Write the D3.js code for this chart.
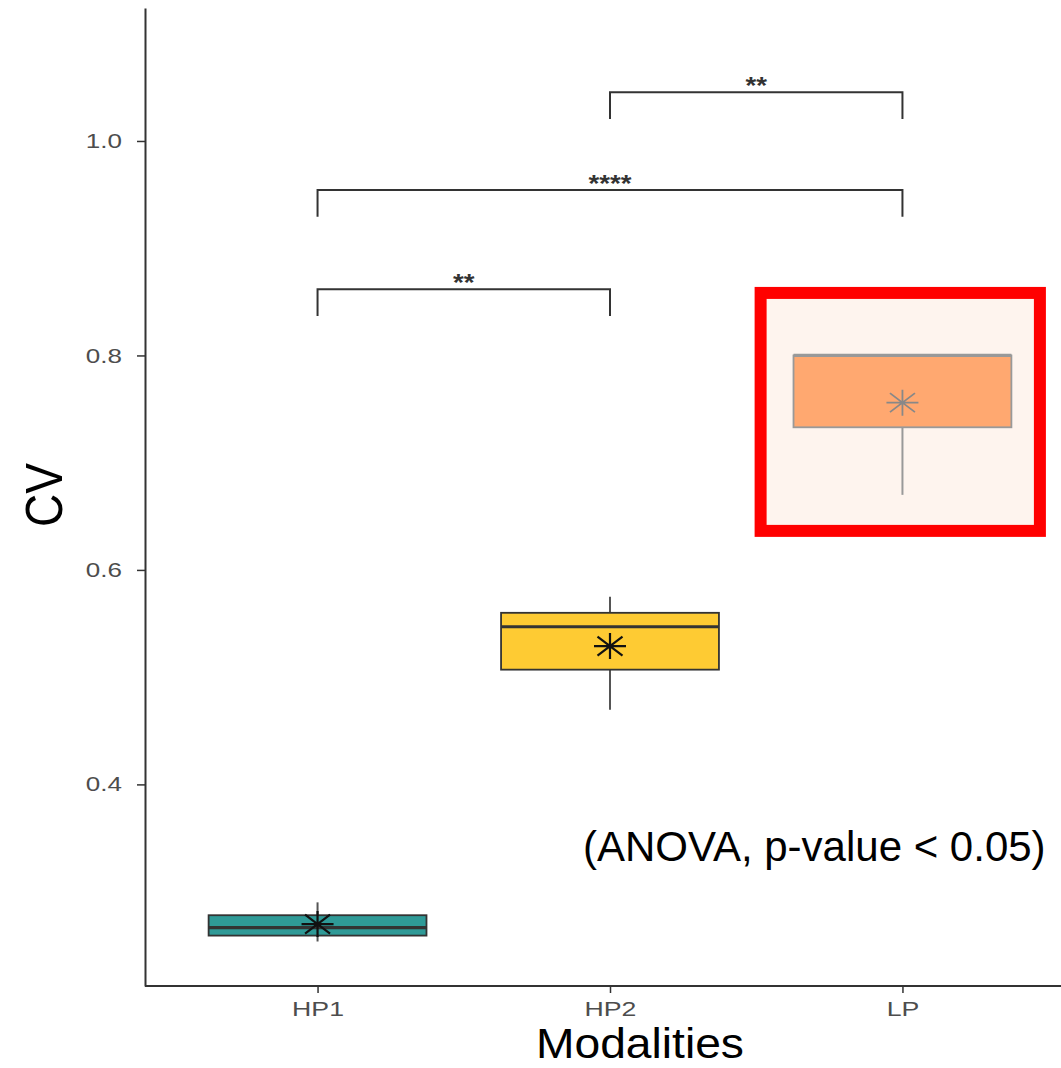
<!DOCTYPE html>
<html lang="en">
<head>
    <meta charset="UTF-8">
    <title>CV by modality</title>
    <script src="https://d3js.org/d3.v7.min.js"></script>
    <style>
        body {
            margin: 0;
            background-color: #ffffff;
            font-family: "Liberation Sans", Arial, sans-serif;
        }
        .axis path, .axis line {
            stroke: #333;
        }
        .axis path {
            stroke-width: 2px;
        }
        .axis line {
            stroke-width: 1.5px;
        }
        .axis text {
            fill: #4d4d4d;
            font-family: "Liberation Sans", Arial, sans-serif;
            transform-box: fill-box;
        }
        .y-axis text {
            font-size: 20.5px;
            transform-origin: right center;
            transform: scaleX(1.27);
        }
        .x-axis text {
            font-size: 21px;
            transform-origin: center center;
            transform: scaleX(1.27);
        }
    </style>
</head>
<body>
    <svg width="1061" height="1068"></svg>

    <script>
        // 모달리티별 CV 박스플롯 값
        const categories = ["HP1", "HP2", "LP"];
        const q1 = [0.259, 0.507, 0.733];
        const medians = [0.2665, 0.547, 0.800];
        const q3 = [0.278, 0.560, 0.800];
        const whiskerLow = [0.2535, 0.4695, 0.670];
        const whiskerHigh = [0.290, 0.575, 0.800];
        const means = [0.2697, 0.529, 0.756];
        const yTicks = [0.4, 0.6, 0.8, 1.0];

        // 유의성 비교 (브래킷)
        const compareFrom = ["HP1", "HP1", "HP2"];
        const compareTo = ["HP2", "LP", "LP"];
        const bracketLevel = [0.8617, 0.9543, 1.0454];
        const bracketLabels = ["**", "****", "**"];

        const fills = ["#2f9a97", "#fecb33", "#ffa870"];
        const strokes = ["#333333", "#333333", "#999999"];

        const svg = d3.select("svg");

        const x = d3.scalePoint()
            .domain(categories)
            .range([145, 1075])
            .padding(0.59);

        const y = d3.scaleLinear()
            .domain([0.212, 1.124])
            .range([986, 8]);

        const boxW = x.step() * 0.745;

        // LP 강조 박스
        svg.append("rect")
            .attr("x", x("LP") - x.step() * 0.485)
            .attr("y", y(0.8583))
            .attr("width", x.step() * 0.955)
            .attr("height", y(0.6364) - y(0.8583))
            .attr("fill", "#fef4ee")
            .attr("stroke", "#ff0000")
            .attr("stroke-width", 12);

        // 축
        svg.append("g")
            .attr("class", "axis y-axis")
            .attr("transform", "translate(145,0)")
            .call(d3.axisLeft(y)
                .tickValues(yTicks)
                .tickFormat(d3.format(".1f"))
                .tickSize(8)
                .tickSizeOuter(0)
                .tickPadding(15));

        svg.append("g")
            .attr("class", "axis x-axis")
            .attr("transform", "translate(0,986)")
            .call(d3.axisBottom(x)
                .tickSize(7)
                .tickSizeOuter(0)
                .tickPadding(8));

        // x축 선은 오른쪽 끝까지
        svg.select(".x-axis .domain").attr("d", "M145,0H1061");

        // 박스플롯
        const boxes = svg.append("g")
            .selectAll("g")
            .data(categories)
            .join("g");

        boxes.append("line")
            .attr("x1", d => x(d))
            .attr("x2", d => x(d))
            .attr("y1", (d, i) => y(whiskerLow[i]))
            .attr("y2", (d, i) => y(whiskerHigh[i]))
            .attr("stroke", (d, i) => i == 2 ? "#999" : "#555")
            .attr("stroke-width", 2);

        boxes.append("rect")
            .attr("x", d => x(d) - boxW / 2)
            .attr("y", (d, i) => y(q3[i]))
            .attr("width", boxW)
            .attr("height", (d, i) => y(q1[i]) - y(q3[i]))
            .attr("fill", (d, i) => fills[i])
            .attr("stroke", (d, i) => strokes[i])
            .attr("stroke-width", 1.8);

        boxes.append("line")
            .attr("x1", d => x(d) - boxW / 2)
            .attr("x2", d => x(d) + boxW / 2)
            .attr("y1", (d, i) => y(medians[i]))
            .attr("y2", (d, i) => y(medians[i]))
            .attr("stroke", (d, i) => strokes[i])
            .attr("stroke-width", 3.2);

        // 평균 (별표 모양)
        boxes.append("path")
            .attr("transform", (d, i) => `translate(${x(d)},${y(means[i])})`)
            .attr("d", "M-16,0H16M0,-13V13M-12.5,-9.5L12.5,9.5M-12.5,9.5L12.5,-9.5")
            .attr("fill", "none")
            .attr("stroke", (d, i) => i == 2 ? "#888" : "#111")
            .attr("stroke-width", (d, i) => i == 2 ? 1.8 : 2.2);

        // 브래킷
        const drop = 0.025;
        const brackets = svg.append("g")
            .selectAll("g")
            .data(bracketLabels)
            .join("g");

        brackets.append("path")
            .attr("d", (d, i) => {
                const x1 = x(compareFrom[i]);
                const x2 = x(compareTo[i]);
                const yt = y(bracketLevel[i]);
                const yb = y(bracketLevel[i] - drop);
                return `M${x1},${yb}V${yt}H${x2}V${yb}`;
            })
            .attr("fill", "none")
            .attr("stroke", "#333")
            .attr("stroke-width", 2);

        brackets.append("text")
            .attr("x", (d, i) => (x(compareFrom[i]) + x(compareTo[i])) / 2)
            .attr("y", (d, i) => y(bracketLevel[i]) + 2)
            .attr("text-anchor", "middle")
            .attr("font-size", "23px")
            .attr("font-weight", "bold")
            .attr("fill", "#333")
            .style("transform-box", "fill-box")
            .style("transform-origin", "center")
            .style("transform", "scaleX(1.2)")
            .text(d => d);

        // 축 제목 및 주석
        svg.append("text")
            .attr("transform", "translate(62,495) rotate(-90) scale(1,1.12)")
            .attr("text-anchor", "middle")
            .attr("font-size", "46px")
            .attr("fill", "#000")
            .text("CV");

        svg.append("text")
            .attr("x", 640)
            .attr("y", 1058)
            .attr("text-anchor", "middle")
            .attr("font-size", "42px")
            .attr("fill", "#000")
            .style("transform-box", "fill-box")
            .style("transform-origin", "center")
            .style("transform", "scaleX(1.1)")
            .text("Modalities");

        svg.append("text")
            .attr("x", 583)
            .attr("y", 861)
            .attr("font-size", "42px")
            .attr("fill", "#000")
            .text("(ANOVA, p-value < 0.05)");
    </script>
</body>
</html>
